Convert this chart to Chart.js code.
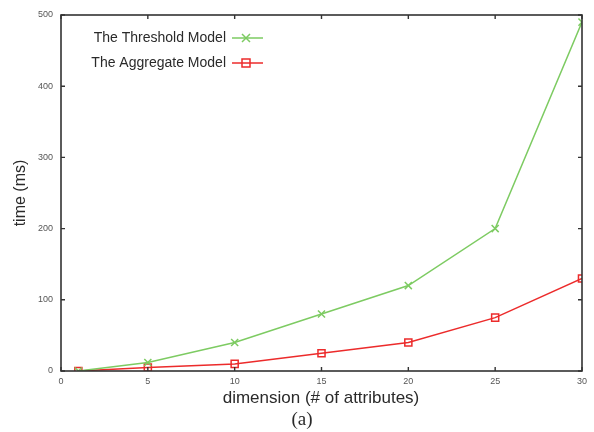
<!DOCTYPE html>
<html lang="en">
<head>
<meta charset="UTF-8">
<title>time vs dimension</title>
<script src="https://cdn.jsdelivr.net/npm/chart.js"></script>
<style>
  html, body { margin: 0; padding: 0; background: #fff; }
  #wrap { width: 594px; height: 432px; }
</style>
</head>
<body>
<div id="wrap"><canvas id="canvas1" width="594" height="432"></canvas></div>

<script>
// data
const dims = [1, 5, 10, 15, 20, 25, 30];
const thresholdMs = [0, 12, 40, 80, 120, 200, 490];
const aggregateMs = [0, 5, 10, 25, 40, 75, 130];
const xTicks = [0, 5, 10, 15, 20, 25, 30];
const yTicks = [0, 100, 200, 300, 400, 500];

const seriesNames = ['The Threshold Model', 'The Aggregate Model'];
const seriesColors = ['#7dcb62', '#ec2b2b'];
const seriesPoints = ['crossRot', 'rect'];

const xTitle = 'dimension (# of attributes)';
const yTitle = 'time (ms)';
const caption = '(a)';

function toXY(ys) {
  return dims.map((d, i) => ({ x: d, y: ys[i] }));
}

// frame, inner ticks, gnuplot-like legend and titles
const decorations = {
  id: 'decorations',
  afterDatasetsDraw(chart) {
    const ctx = chart.ctx;
    const a = chart.chartArea;
    const xs = chart.scales.x, ys = chart.scales.y;
    ctx.save();
    ctx.strokeStyle = '#333';
    ctx.lineWidth = 1.6;
    ctx.strokeRect(a.left, a.top, a.right - a.left, a.bottom - a.top);
    ctx.lineWidth = 1.4;
    ctx.beginPath();
    xTicks.forEach(v => {
      const px = xs.getPixelForValue(v);
      ctx.moveTo(px, a.bottom); ctx.lineTo(px, a.bottom - 4);
      ctx.moveTo(px, a.top); ctx.lineTo(px, a.top + 4);
    });
    yTicks.forEach(v => {
      const py = ys.getPixelForValue(v);
      ctx.moveTo(a.left, py); ctx.lineTo(a.left + 4, py);
      ctx.moveTo(a.right, py); ctx.lineTo(a.right - 4, py);
    });
    ctx.stroke();

    // legend: text right aligned, sample to the right
    ctx.font = '14px "Liberation Sans", Arial, sans-serif';
    ctx.textAlign = 'right';
    ctx.textBaseline = 'middle';
    seriesNames.forEach((name, i) => {
      const y = 38 + i * 25;
      ctx.fillStyle = '#2a2a2a';
      ctx.fillText(name, 226, y);
      ctx.strokeStyle = seriesColors[i];
      ctx.lineWidth = 1.5;
      ctx.beginPath();
      ctx.moveTo(232, y); ctx.lineTo(263, y);
      ctx.stroke();
      ctx.beginPath();
      if (seriesPoints[i] === 'crossRot') {
        ctx.moveTo(242, y - 4); ctx.lineTo(250, y + 4);
        ctx.moveTo(242, y + 4); ctx.lineTo(250, y - 4);
      } else {
        ctx.rect(242, y - 4, 8, 8);
      }
      ctx.stroke();
    });

    // axis titles and caption
    ctx.fillStyle = '#2a2a2a';
    ctx.textAlign = 'center';
    ctx.font = '17px "Liberation Sans", Arial, sans-serif';
    ctx.fillText(xTitle, 321, 398);
    ctx.save();
    ctx.translate(21, 193);
    ctx.rotate(-Math.PI / 2);
    ctx.font = '16px "Liberation Sans", Arial, sans-serif';
    ctx.fillText(yTitle, 0, 0);
    ctx.restore();
    ctx.font = '19px "Liberation Serif", "Times New Roman", serif';
    ctx.fillText(caption, 302, 420);
    ctx.restore();
  }
};

const config = {
  type: 'line',
  data: {
    datasets: [
      {
        label: seriesNames[0],
        data: toXY(thresholdMs),
        borderColor: seriesColors[0],
        backgroundColor: seriesColors[0],
        pointStyle: seriesPoints[0],
        pointRadius: 5,
        pointBorderWidth: 1.5,
        borderWidth: 1.5,
        tension: 0
      },
      {
        label: seriesNames[1],
        data: toXY(aggregateMs),
        borderColor: seriesColors[1],
        backgroundColor: 'rgba(255,255,255,0)',
        pointStyle: seriesPoints[1],
        pointRadius: 5,
        pointBorderWidth: 1.5,
        borderWidth: 1.5,
        tension: 0
      }
    ]
  },
  options: {
    responsive: false,
    animation: false,
    layout: { padding: { left: 0, top: 15, right: 12, bottom: 0 } },
    plugins: {
      legend: { display: false },
      tooltip: { enabled: false }
    },
    scales: {
      x: {
        type: 'linear',
        min: 0, max: 30,
        afterFit: s => { s.height = 61; },
        afterBuildTicks: s => { s.ticks = xTicks.map(v => ({ value: v })); },
        grid: { display: false, drawTicks: false },
        border: { display: false },
        ticks: {
          padding: 5,
          color: '#555',
          font: { size: 9, family: '"Liberation Sans", Arial, sans-serif' }
        }
      },
      y: {
        min: 0, max: 500,
        afterFit: s => { s.width = 61; },
        afterBuildTicks: s => { s.ticks = yTicks.map(v => ({ value: v })); },
        grid: { display: false, drawTicks: false },
        border: { display: false },
        ticks: {
          padding: 8,
          color: '#555',
          font: { size: 9, family: '"Liberation Sans", Arial, sans-serif' }
        }
      }
    }
  },
  plugins: [decorations]
};

const ctx = document.getElementById('canvas1').getContext('2d');
const resultChart = new Chart(ctx, config);
</script>
</body>
</html>
